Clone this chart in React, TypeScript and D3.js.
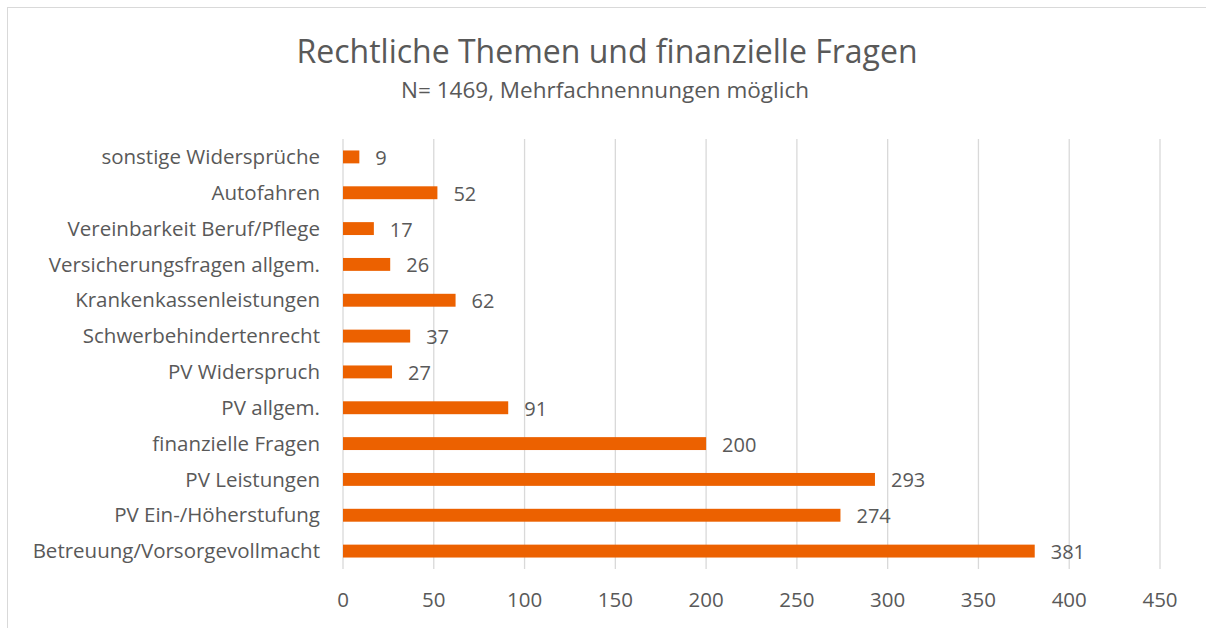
import React from "react";
import * as d3 from "d3";

const categories = [
  "Betreuung/Vorsorgevollmacht",
  "PV Ein-/Höherstufung",
  "PV Leistungen",
  "finanzielle Fragen",
  "PV allgem.",
  "PV Widerspruch",
  "Schwerbehindertenrecht",
  "Krankenkassenleistungen",
  "Versicherungsfragen allgem.",
  "Vereinbarkeit Beruf/Pflege",
  "Autofahren",
  "sonstige Widersprüche",
];
const values = [381, 274, 293, 200, 91, 27, 37, 62, 26, 17, 52, 9];
const xTicks = [0, 50, 100, 150, 200, 250, 300, 350, 400, 450];
const title = "Rechtliche Themen und finanzielle Fragen";
const subtitle = "N= 1469, Mehrfachnennungen möglich";

const W = 1206;
const H = 628;
const FONT = "'Open Sans', sans-serif";
const TXT = "#595959";

export default function App() {
  const x = d3.scaleLinear().domain([0, 450]).range([343, 1160]);
  const y = d3
    .scaleBand<string>()
    .domain([...categories].reverse())
    .range([139, 569])
    .paddingInner(0.64)
    .paddingOuter(0.32);

  return (
    <svg
      width={W}
      height={H}
      style={{ position: "absolute", left: 0, top: 0, background: "#fff" }}
    >
      <rect x={7.5} y={7.5} width={1220} height={660} fill="#fff" stroke="#D9D9D9" strokeWidth={1} />
      <text x={607} y={63} textAnchor="middle" fontFamily={FONT} fontSize={32} fill={TXT}>
        {title}
      </text>
      <text x={605} y={98} textAnchor="middle" fontFamily={FONT} fontSize={22.5} fill={TXT}>
        {subtitle}
      </text>
      {xTicks.map((t) => (
        <g key={t}>
          <line x1={x(t)} x2={x(t)} y1={139} y2={569} stroke="#D9D9D9" strokeWidth={1.3} />
          <text x={x(t)} y={607} textAnchor="middle" fontFamily={FONT} fontSize={20.5} fill={TXT}>
            {t}
          </text>
        </g>
      ))}
      {categories.map((c, i) => {
        const yc = (y(c) as number) + y.bandwidth() / 2;
        return (
          <g key={c}>
            <rect
              x={x(0)}
              y={y(c)}
              width={x(values[i]) - x(0)}
              height={y.bandwidth()}
              fill="#EC6100"
            />
            <text x={320} y={yc} dy="0.35em" textAnchor="end" fontFamily={FONT} fontSize={20.5} fill={TXT}>
              {c}
            </text>
            <text x={x(values[i]) + 16} y={yc} dy="0.4em" fontFamily={FONT} fontSize={20} fill={TXT}>
              {values[i]}
            </text>
          </g>
        );
      })}
    </svg>
  );
}
